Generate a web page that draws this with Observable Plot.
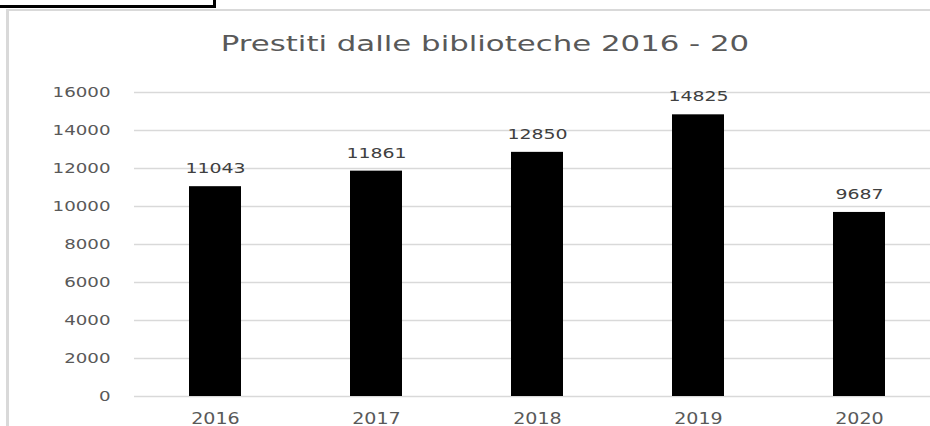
<!DOCTYPE html>
<html>
<head>
<meta charset="utf-8">
<script src="https://cdn.jsdelivr.net/npm/d3@7"></script>
<script src="https://cdn.jsdelivr.net/npm/@observablehq/plot@0.6"></script>
<style>
  html, body { margin: 0; padding: 0; background: #fff; overflow: hidden; width: 930px; height: 426px; }
  #wrap { position: relative; width: 930px; height: 426px; overflow: hidden; }
  #fragbox { position: absolute; left: -3px; top: -10px; width: 213px; height: 15px; border: 3px solid #000; border-top: none; }
  .frag { position: absolute; top: -15px; font: bold 18px/18px "DejaVu Sans", sans-serif; color: #000; white-space: pre; letter-spacing: 3px; }
  #frame { position: absolute; left: 6px; top: 9px; width: 940px; height: 440px; border-left: 3px solid #d9d9d9; border-top: 2px solid #d9d9d9; }
  #title { position: absolute; left: 0; width: 970px; top: 31px; text-align: center;
           font: 22px "DejaVu Sans", sans-serif; color: #595959; transform: scaleX(1.4); transform-origin: 485px 0; }
  #chart { position: absolute; left: 0; top: 0; }
</style>
</head>
<body>
<div id="wrap">
  <div id="fragbox"></div>
  <div class="frag" style="left:-20px">12</div>
  <div class="frag" style="left:57px">1694</div>
  <div class="frag" style="left:147px">4540</div>
  <div id="frame"></div>
  <div id="chart"></div>
  <div id="title">Prestiti dalle biblioteche 2016 - 20</div>
</div>
<script>
const years = ["2016", "2017", "2018", "2019", "2020"];
const loans = [11043, 11861, 12850, 14825, 9687];
const yTicks = [0, 2000, 4000, 6000, 8000, 10000, 12000, 14000, 16000];

const data = years.map((y, i) => ({year: y, value: loans[i]}));

const chart = Plot.plot({
  width: 930,
  height: 426,
  marginTop: 92,
  marginBottom: 30,
  marginLeft: 134,
  marginRight: 0,
  style: {background: "transparent", fontFamily: "DejaVu Sans, sans-serif", color: "#595959", overflow: "hidden"},
  x: {domain: years, range: [134.5, 939.5], paddingInner: 0.68, paddingOuter: 0.34},
  y: {domain: [0, 16000]},
  marks: [
    Plot.ruleY(yTicks, {stroke: "#d9d9d9", strokeWidth: 1.5}),
    Plot.axisY({ticks: yTicks, label: null, tickSize: 0, tickPadding: 24, fontSize: 14, tickFormat: d => String(d), fill: "#595959"}),
    Plot.axisX({label: null, tickSize: 0, tickPadding: 17, fontSize: 15, fill: "#595959"}),
    Plot.barY(data, {x: "year", y: "value", fill: "#000"}),
    Plot.text(data, {x: "year", y: "value", text: d => String(d.value), dy: -18, fill: "#404040", fontSize: 14, lineAnchor: "middle"})
  ]
});
document.getElementById("chart").appendChild(chart);

// The reference's lettering is horizontally stretched; widen the glyphs to match.
function stretch(selector, k) {
  chart.querySelectorAll(selector).forEach(t => {
    const len = t.getComputedTextLength();
    t.setAttribute("textLength", (len * k).toFixed(1));
    t.setAttribute("lengthAdjust", "spacingAndGlyphs");
  });
}
stretch('g[aria-label="y-axis tick label"] text', 1.3);
stretch('g[aria-label="x-axis tick label"] text', 1.27);
stretch('g[aria-label="text"] text', 1.35);
</script>
</body>
</html>
